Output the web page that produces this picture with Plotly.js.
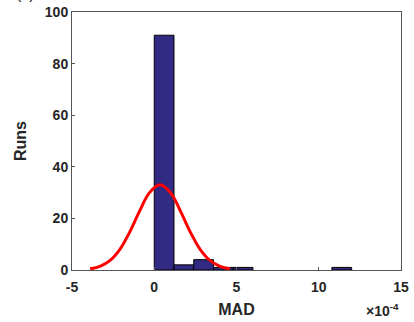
<!DOCTYPE html>
<html>
<head>
<meta charset="utf-8">
<script src="https://cdn.plot.ly/plotly-3.0.1.min.js"></script>
<style>html,body{margin:0;padding:0;background:#fff;}#chart{width:414px;height:322px;}</style>
</head>
<body>
<div id="chart"></div>
<script>
// Histogram of MAD (units of 1e-4)
var binStarts = [0, 1.2, 2.4, 3.6, 4.8, 6.0, 7.2, 8.4, 9.6, 10.8];
var binWidth = 1.2;
var runCounts = [91, 2, 4, 1, 1, 0, 0, 0, 0, 1];

// Fitted normal curve
var fitX = [-3.9, -3.3, -2.7, -2.1, -1.5, -0.9, -0.3, 0.35, 1.0, 1.6, 2.2, 2.8, 3.4, 4.0, 4.6];
var fitY = [0.45, 1.4, 3.6, 7.9, 14.6, 22.7, 29.9, 33.0, 29.9, 22.7, 14.6, 7.9, 3.6, 1.4, 0.45];

var xTicks = [-5, 0, 5, 10, 15];
var yTicks = [0, 20, 40, 60, 80, 100];

var binCenters = binStarts.map(function(s){ return s + binWidth/2; });
var outlineWidths = runCounts.map(function(c){ return c > 0 ? 1 : 0; });

var tickFont = {family: 'Arial, Liberation Sans, sans-serif', size: 14, color: '#262626', weight: 'bold'};

var data = [
  {
    type: 'bar',
    x: binCenters,
    y: runCounts,
    width: binWidth,
    marker: {color: '#322b84', line: {color: '#000000', width: outlineWidths}},
    hoverinfo: 'skip'
  },
  {
    type: 'scatter',
    mode: 'lines',
    x: fitX,
    y: fitY,
    line: {color: '#ff0000', width: 3, shape: 'spline'},
    hoverinfo: 'skip'
  }
];

var layout = {
  width: 414,
  height: 322,
  margin: {l: 72, r: 13, t: 12, b: 52},
  paper_bgcolor: '#ffffff',
  plot_bgcolor: '#ffffff',
  showlegend: false,
  bargap: 0,
  xaxis: {
    range: [-5, 15],
    tickvals: xTicks,
    ticktext: xTicks.map(String),
    ticks: 'inside',
    ticklen: 3,
    tickcolor: '#555555',
    ticklabelstandoff: 4,
    showline: true,
    linecolor: '#555555',
    linewidth: 1,
    mirror: true,
    showgrid: false,
    zeroline: false,
    tickfont: tickFont,
    title: {text: 'MAD', font: {family: 'Arial, Liberation Sans, sans-serif', size: 16, color: '#262626', weight: 'bold'}, standoff: 10}
  },
  yaxis: {
    range: [0, 100],
    tickvals: yTicks,
    ticktext: yTicks.map(String),
    ticks: 'inside',
    ticklen: 3,
    tickcolor: '#555555',
    showline: true,
    linecolor: '#555555',
    linewidth: 1,
    mirror: true,
    showgrid: false,
    zeroline: false,
    tickfont: tickFont,
    title: {text: 'Runs', font: {family: 'Arial, Liberation Sans, sans-serif', size: 16, color: '#262626', weight: 'bold'}, standoff: 14}
  },
  annotations: [
    {
      xref: 'paper', yref: 'paper', x: 1, y: -0.112, xanchor: 'right', yanchor: 'top',
      text: '×10<sup>-4</sup>', showarrow: false,
      font: {family: 'Arial, Liberation Sans, sans-serif', size: 14, color: '#262626', weight: 'bold'}
    },
    {
      xref: 'paper', yref: 'paper', x: -0.14, y: 1.03, xanchor: 'center', yanchor: 'bottom',
      text: '(c)', showarrow: false,
      font: {family: 'Arial, Liberation Sans, sans-serif', size: 16, color: '#262626'}
    }
  ]
};

Plotly.newPlot('chart', data, layout, {staticPlot: true, displayModeBar: false});
</script>
</body>
</html>
